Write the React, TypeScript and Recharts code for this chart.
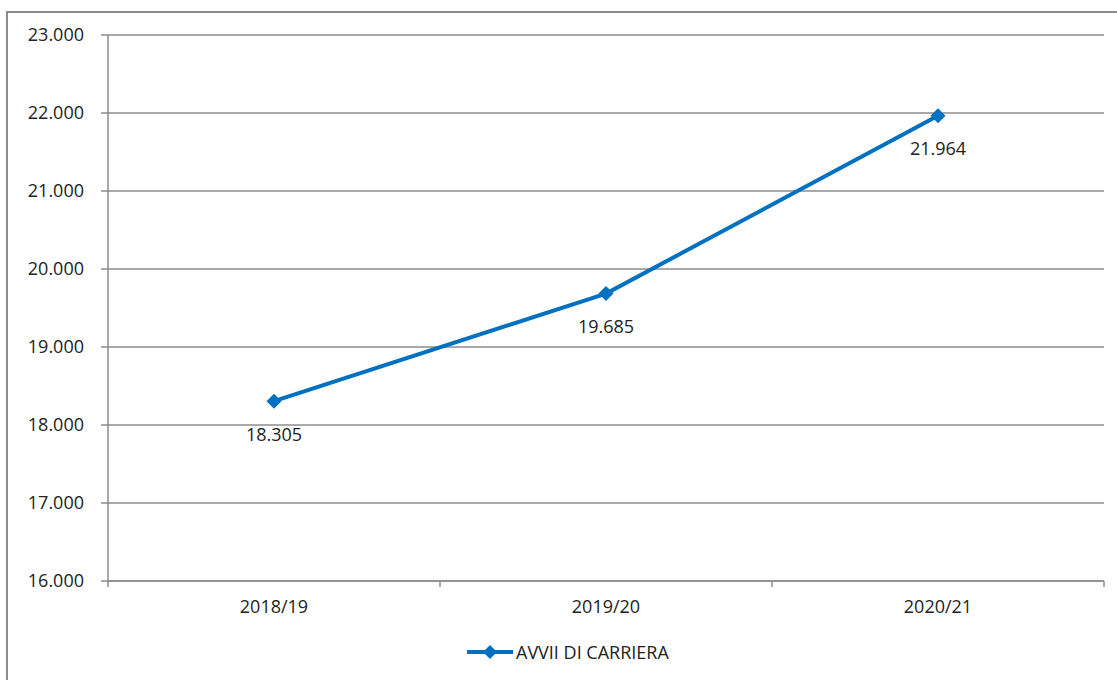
import React from 'react';
import { LineChart, Line, XAxis, YAxis, CartesianGrid, Legend, LabelList } from 'recharts';

// data
const anni = ['2018/19', '2019/20', '2020/21'];
const avviiDiCarriera = [18305, 19685, 21964];
const yTicks = [16000, 17000, 18000, 19000, 20000, 21000, 22000, 23000];

const data = anni.map((anno, i) => ({ anno, avvii: avviiDiCarriera[i] }));

const BLUE = '#0070C0';
const GRID = '#8c8c8c';
const TEXT = '#222222';
const FONT = '"Open Sans", "Noto Sans", sans-serif';

const W = 1117;
const H = 680;
const MARGIN = { top: 35, right: 13, left: 0, bottom: 16 };
const Y_WIDTH = 108;

// Italian thousands separator
const fmt = (n: number) => String(n).replace(/\B(?=(\d{3})+(?!\d))/g, '.');

// category label in the middle, tick marks on the band edges (Excel style)
const XTick = (props: any) => {
  const { x, y, payload, index, visibleTicksCount } = props;
  const count = visibleTicksCount || anni.length;
  const axisW = typeof props.width === 'number' && props.width > 0 ? props.width : W - MARGIN.left - MARGIN.right - Y_WIDTH;
  const band = axisW / count;
  return (
    <g>
      {index === 0 && <line x1={x - band / 2} x2={x - band / 2} y1={y} y2={y + 6} stroke={GRID} strokeWidth={1.5} />}
      <line x1={x + band / 2} x2={x + band / 2} y1={y} y2={y + 6} stroke={GRID} strokeWidth={1.5} />
      <text x={x} y={y + 26} dy="0.35em" textAnchor="middle" fill={TEXT} fontSize={18} fontFamily={FONT}>
        {payload.value}
      </text>
    </g>
  );
};

const Diamond = (props: any) => {
  const { cx, cy, index } = props;
  const r = 7.5;
  return (
    <polygon
      key={`d-${index}`}
      points={`${cx},${cy - r} ${cx + r},${cy} ${cx},${cy + r} ${cx - r},${cy}`}
      fill={BLUE}
    />
  );
};

const PointLabel = (props: any) => {
  const { x, y, value } = props;
  return (
    <text x={x} y={y + 33} dy="0.35em" textAnchor="middle" fill={TEXT} fontSize={18} fontFamily={FONT}>
      {fmt(Number(value))}
    </text>
  );
};

const LegendBox = () => (
  <div style={{ display: 'flex', alignItems: 'center', height: 24, paddingLeft: 467, fontFamily: FONT }}>
    <svg width={46} height={16} style={{ display: 'block' }}>
      <line x1={0} x2={46} y1={8} y2={8} stroke={BLUE} strokeWidth={4} />
      <polygon points="23,1 30,8 23,15 16,8" fill={BLUE} />
    </svg>
    <span style={{ marginLeft: 3, fontSize: 18, color: TEXT, whiteSpace: 'nowrap' }}>AVVII DI CARRIERA</span>
  </div>
);

export default function App() {
  return (
    <div style={{ position: 'fixed', left: 0, top: 0, width: W, height: H, overflow: 'hidden', background: '#fff' }}>
      <div
        style={{
          position: 'absolute',
          left: 6,
          top: 11,
          width: 1300,
          height: 900,
          border: `2px solid ${GRID}`,
          boxSizing: 'border-box',
        }}
      />
      <div style={{ position: 'absolute', left: 0, top: 0 }}>
        <LineChart width={W} height={H} data={data} margin={MARGIN}>
          <CartesianGrid horizontal vertical={false} stroke={GRID} strokeWidth={1.5} />
          <XAxis
            dataKey="anno"
            scale="band"
            height={59}
            tickSize={0}
            tickMargin={0}
            tickLine={false}
            axisLine={{ stroke: GRID, strokeWidth: 1.5 }}
            tick={<XTick />}
            interval={0}
          />
          <YAxis
            width={Y_WIDTH}
            domain={[16000, 23000]}
            ticks={yTicks}
            interval={0}
            tickFormatter={fmt}
            tickSize={7}
            tickMargin={17}
            axisLine={{ stroke: GRID, strokeWidth: 1.5 }}
            tickLine={{ stroke: GRID, strokeWidth: 1.5 }}
            tick={{ fill: TEXT, fontSize: 18, fontFamily: FONT }}
          />
          <Legend verticalAlign="bottom" height={24} content={<LegendBox />} />
          <Line
            type="linear"
            dataKey="avvii"
            name="AVVII DI CARRIERA"
            stroke={BLUE}
            strokeWidth={4}
            dot={<Diamond />}
            activeDot={false}
            isAnimationActive={false}
          >
            <LabelList dataKey="avvii" content={<PointLabel />} />
          </Line>
        </LineChart>
      </div>
    </div>
  );
}
